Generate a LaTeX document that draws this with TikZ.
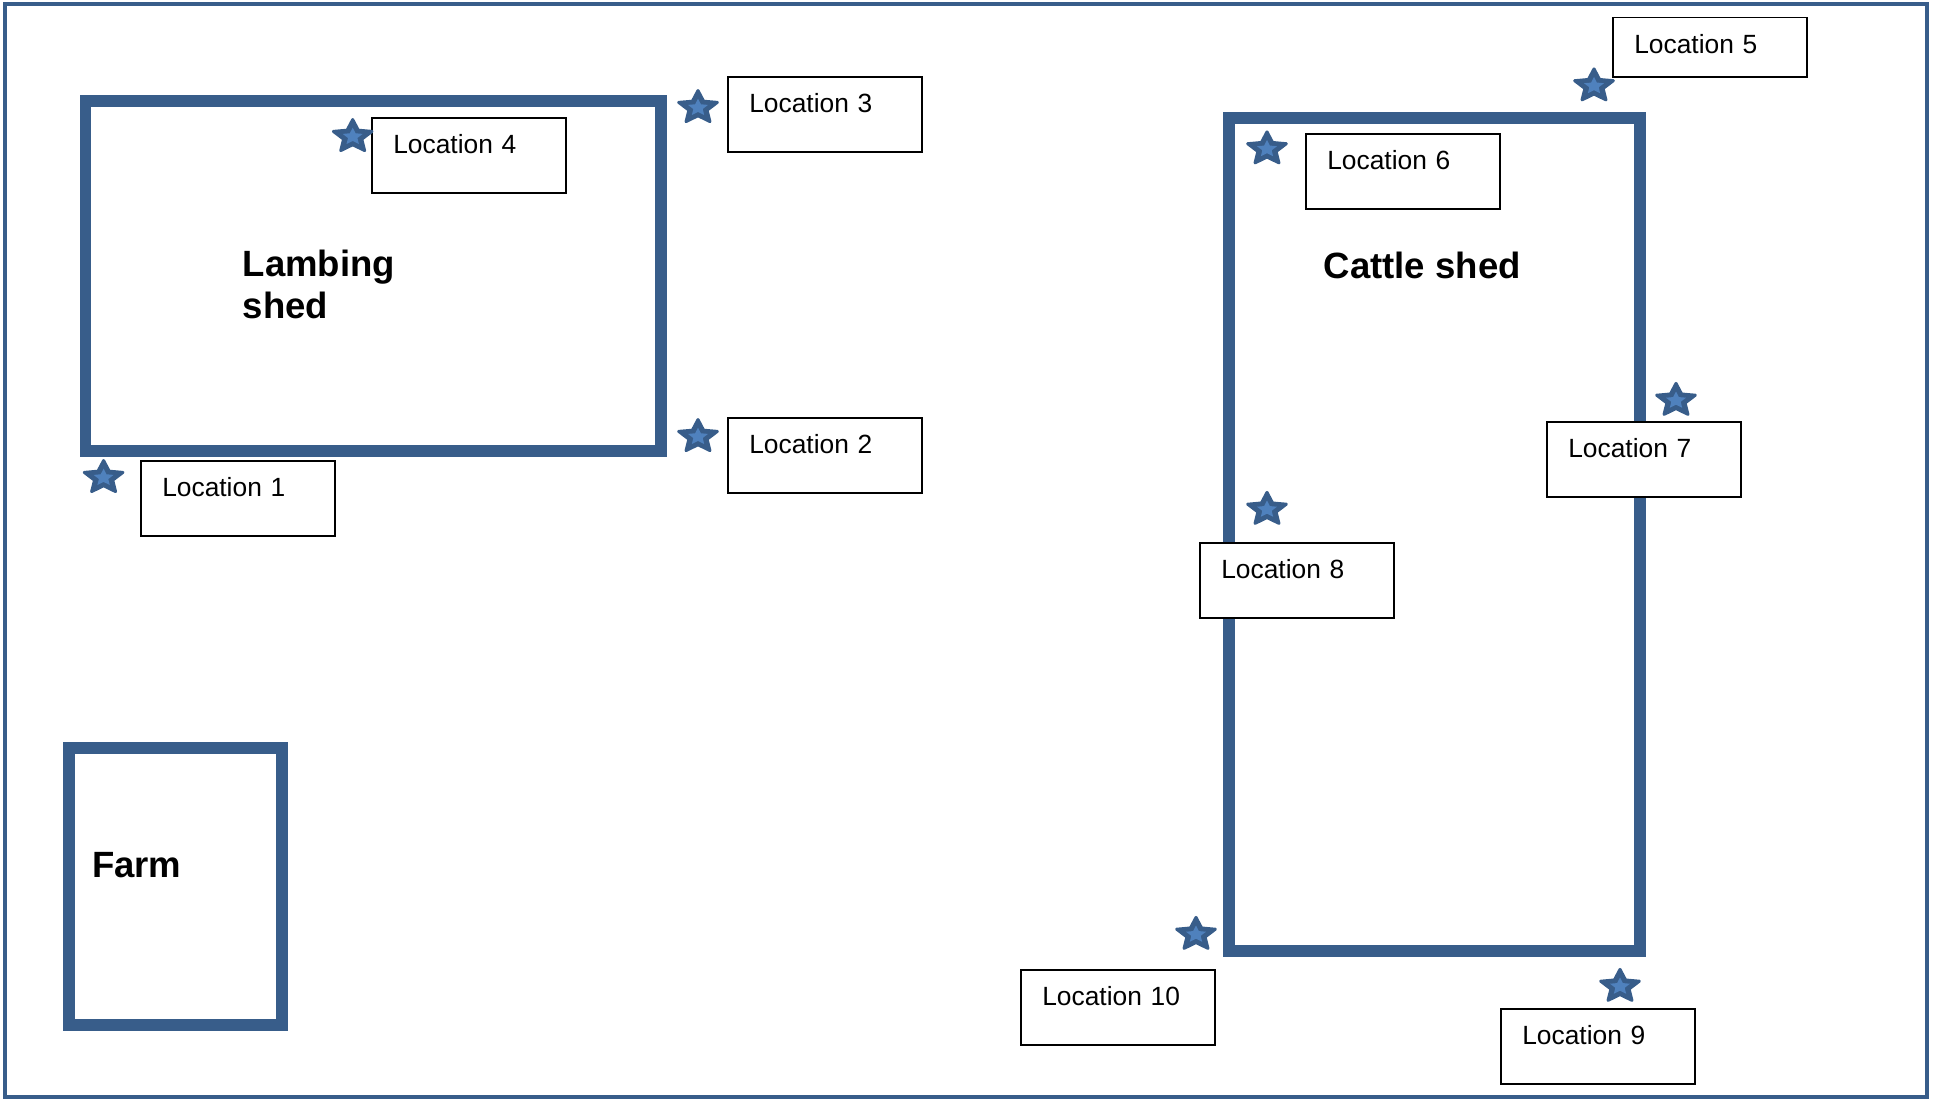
\documentclass[tikz,border=0pt]{standalone}
\usepackage{fontspec}
\setmainfont{Liberation Sans}
\usepackage{xcolor}
\usetikzlibrary{positioning,calc}
\definecolor{shedblue}{HTML}{385D8A}
\definecolor{starlight}{HTML}{4F81BD}
\tikzset{
  shed/.style={draw=shedblue, line width=0.24cm},
  locbox/.style={draw, fill=white, line width=0.9pt, anchor=north west, align=left,
    text width=3.02cm, inner xsep=0.43cm, inner ysep=0pt,
    text height=0.72cm, text depth=0.79cm, font=\fontsize{15}{18}\selectfont},
  shedlabel/.style={anchor=base west, inner sep=0pt, align=left,
    font=\bfseries\fontsize{20.8}{24}\selectfont},
  pics/locstar/.style={code={
    \filldraw[shedblue, line width=1.7pt, line join=round, x=0.407cm, y=0.343cm]
      (90:1) -- (126:0.47) -- (162:1) -- (198:0.47) -- (234:1) -- (270:0.47)
      -- (306:1) -- (342:0.47) -- (18:1) -- (54:0.47) -- cycle;
    \fill[starlight, x=0.21cm, y=0.18cm]
      (90:1) -- (126:0.47) -- (162:1) -- (198:0.47) -- (234:1) -- (270:0.47)
      -- (306:1) -- (342:0.47) -- (18:1) -- (54:0.47) -- cycle;
  }}
}

\begin{document}
\begin{tikzpicture}[x=0.02cm, y=-0.02cm]
    \useasboundingbox (0,0) rectangle (1938,1099);
    % outer frame
    \draw[shedblue, line width=0.08cm] (5,4) rectangle (1927,1097);
    % buildings
    \draw[shed] (85.5,101) rectangle (661,451);
    \draw[shed] (1228.5,117.5) rectangle (1640,951);
    \draw[shed] (69,748) rectangle (282,1025);
    \node[shedlabel] (lamb) at (242.4,318.8) {Lambing\\shed};
    \node[shedlabel] (cattle) at (1323.4,278.5) {Cattle shed};
    \node[shedlabel] (farm) at (91.7,877.3) {Farm};
    % location boxes
    \node[locbox] (loc1) at (140,460) {Location 1};
    \node[locbox] (loc2) at (727,417) {Location 2};
    \node[locbox] (loc3) at (727,76) {Location 3};
    \node[locbox] (loc4) at (371,117) {Location 4};
    \node[locbox, text depth=0.47cm] (loc5) at (1612,16.5) {Location 5};
    \node[locbox] (loc6) at (1305,133) {Location 6};
    \node[locbox] (loc7) at (1546,421) {Location 7};
    \node[locbox] (loc8) at (1199,542) {Location 8};
    \node[locbox] (loc9) at (1500,1008) {Location 9};
    \node[locbox] (loc10) at (1020,969) {Location 10};
    % stars
    \pic (st1) at (103.6,477.7) {locstar};
    \pic (st2) at (698,436.7) {locstar};
    \pic (st3) at (698,107.7) {locstar};
    \pic (st4) at (352.7,136.7) {locstar};
    \pic (st5) at (1594,86) {locstar};
    \pic (st6) at (1267,149) {locstar};
    \pic (st7) at (1676,400.5) {locstar};
    \pic (st8) at (1267,509.5) {locstar};
    \pic (st9) at (1620,986.5) {locstar};
    \pic (st10) at (1196,934.5) {locstar};
\end{tikzpicture}
\end{document}
